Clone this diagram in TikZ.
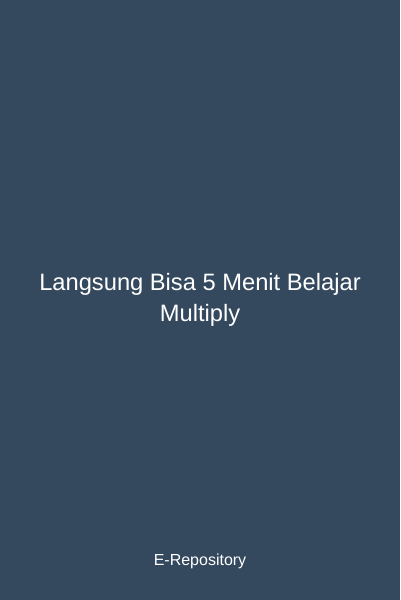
\documentclass[tikz,border=0pt]{standalone}
\usepackage{fontspec}
\setmainfont{Liberation Sans}
\definecolor{bgcol}{HTML}{34495E}
\definecolor{txtcol}{HTML}{FFFFFF}
\begin{document}
\begin{tikzpicture}[x=1bp,y=-1bp,
  titletext/.style={text=txtcol,font=\fontsize{23.7bp}{31bp}\selectfont,align=center,inner sep=0pt},
  foottext/.style={text=txtcol,font=\fontsize{16bp}{19bp}\selectfont,inner sep=0pt}]
\fill[bgcol] (0,0) rectangle (400,600);
\useasboundingbox (0,0) rectangle (400,600);
\node[titletext] (title) at (200,299.5) {Langsung Bisa 5 Menit Belajar\\Multiply};
\node[foottext] (foot) at (200,561) {E-Repository};
\end{tikzpicture}
\end{document}
